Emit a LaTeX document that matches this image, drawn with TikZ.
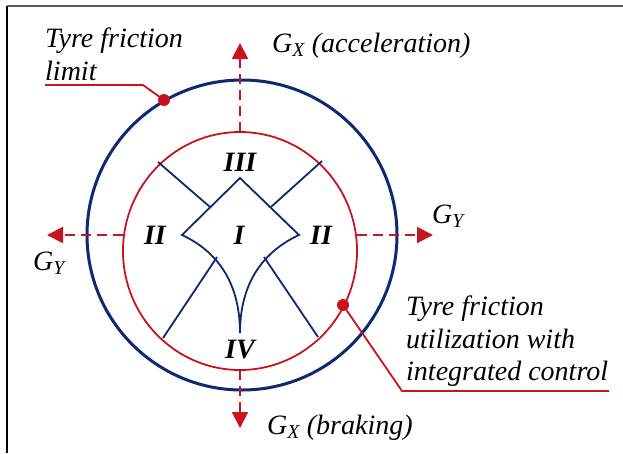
\documentclass[tikz,border=0pt]{standalone}
\usepackage{fontspec}
\setmainfont{Liberation Serif}[
  ItalicFont={Liberation Serif Italic},
  BoldItalicFont={Liberation Serif Bold Italic}]
\usetikzlibrary{arrows.meta}
\definecolor{navy}{RGB}{15,40,115}
\definecolor{brick}{RGB}{200,20,30}
\tikzset{
  lim/.style={draw=navy,line width=3pt},
  util/.style={draw=brick,line width=1.8pt},
  zone/.style={draw=navy,line width=1.8pt,line join=miter},
  axis/.style={brick,line width=2pt,dash pattern=on 10pt off 6pt,
               -{Triangle[length=16pt,width=16pt]}},
  lead/.style={brick,line width=1.8pt},
  pin/.style={circle,fill=brick,inner sep=0pt,minimum size=12pt},
  lbl/.style={font=\rmfamily\itshape\fontsize{28}{32.5}\selectfont,inner sep=0pt,align=left},
  num/.style={font=\rmfamily\bfseries\itshape\fontsize{28}{32.5}\selectfont,inner sep=0pt},
}

\begin{document}
\begin{tikzpicture}[x=1pt,y=-1pt]
  \useasboundingbox (0,0) rectangle (623,453);
  % ===== frame =====
  \draw[gray!70!black,line width=2pt] (7,6) -- (623,6);
  \draw[black,line width=1.5pt] (7,6) -- (7,453);

  % ===== friction circles =====
  \draw[lim]  (242,235) circle[radius=155];
  \draw[util] (240,251) ellipse[x radius=117,y radius=119];

  % ===== axes =====
  \coordinate (uTop) at (240,132);  \coordinate (aTop) at (240,43);
  \coordinate (uBot) at (240,370);  \coordinate (aBot) at (240,428);
  \coordinate (uLft) at (123,235);  \coordinate (aLft) at (47,235);
  \coordinate (uRgt) at (357,235);  \coordinate (aRgt) at (433,235);
  \draw[axis] (uTop) -- (aTop);
  \draw[axis] (uBot) -- (aBot);
  \draw[axis] (uLft) -- (aLft);
  \draw[axis] (uRgt) -- (aRgt);
  \node[lbl,anchor=base west] (gxAcc) at (272,52)  {G\textsubscript{X} (acceleration)};
  \node[lbl,anchor=base west] (gxBrk) at (267,434) {G\textsubscript{X} (braking)};
  \node[lbl,anchor=base west] (gyR)   at (432,223) {G\textsubscript{Y}};
  \node[lbl,anchor=base west] (gyL)   at (33,270)  {G\textsubscript{Y}};

  % ===== zone shape =====
  \coordinate (zT) at (240,178);
  \coordinate (zL) at (182,235);
  \coordinate (zR) at (299,235);
  \coordinate (zB) at (240,333);
  \draw[zone] (zL) -- (zT) -- (zR)
      .. controls (271,248) and (240,275) .. (zB)
      .. controls (240,275) and (210,248) .. (zL) -- cycle;
  % zone borders
  \coordinate (eUL) at (210,207);  \coordinate (cUL) at (158,162);
  \coordinate (eUR) at (271,207);  \coordinate (cUR) at (322,161);
  \coordinate (eLL) at (217,257);  \coordinate (cLL) at (163,338);
  \coordinate (eLR) at (264,257);  \coordinate (cLR) at (318,337);
  \draw[zone] (eUL) -- (cUL);
  \draw[zone] (eUR) -- (cUR);
  \draw[zone] (eLL) -- (cLL);
  \draw[zone] (eLR) -- (cLR);

  \node[num] (zI)   at (239,235) {I};
  \node[num] (zIIl) at (155,235) {II};
  \node[num] (zIIr) at (321,235) {II};
  \node[num] (zIII) at (240,162) {III};
  \node[num] (zIV)  at (240,350) {IV};

  % ===== callouts =====
  \node[pin] (pLim) at (164,100) {};
  \coordinate (kLim) at (143,85);
  \coordinate (eLim) at (45,85);
  \draw[lead] (pLim.center) -- (kLim) -- (eLim);
  \node[lbl,anchor=north west] (tLim) at (45,28) {Tyre friction\\limit};

  \node[pin] (pUtil) at (343,305) {};
  \coordinate (kUtil) at (402,391);
  \coordinate (eUtil) at (609,391);
  \draw[lead] (pUtil.center) -- (kUtil) -- (eUtil);
  \node[lbl,anchor=north west] (tUtil) at (406,296)
       {Tyre friction\\utilization with\\integrated control};
\end{tikzpicture}
\end{document}
